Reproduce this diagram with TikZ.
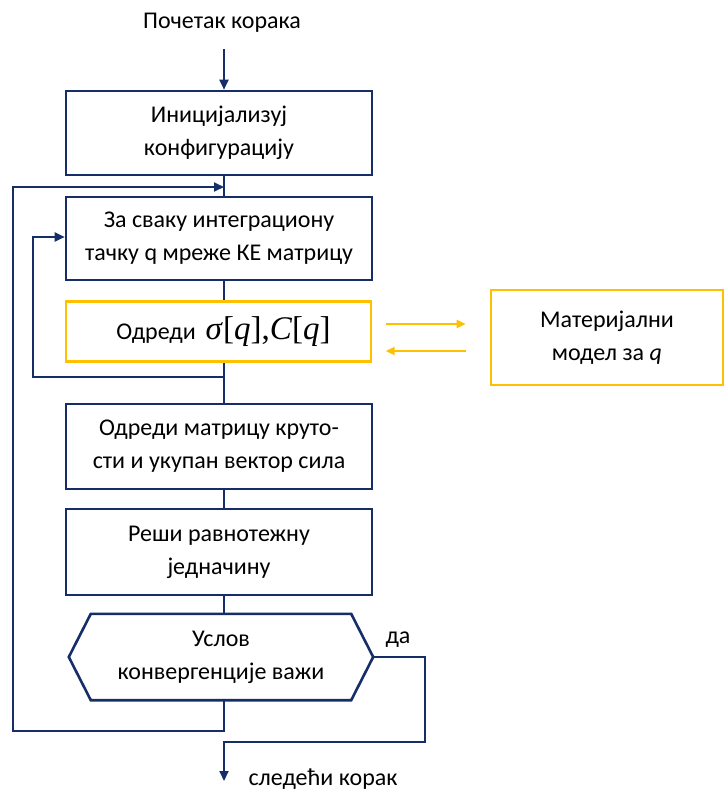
\documentclass[tikz,border=0pt]{standalone}
\usepackage{fontspec}
\setmainfont{Carlito}
\newfontfamily\timesf{Liberation Serif}
\usetikzlibrary{arrows.meta}
\definecolor{navy}{RGB}{22,46,104}
\definecolor{gold}{RGB}{255,192,0}
\begin{document}
\begin{tikzpicture}[x=1pt,y=-1pt,
  font=\fontsize{24}{33}\selectfont,
  box/.style={draw=navy, line width=2.6pt, align=center, inner sep=0pt, minimum width=306pt},
  ybox/.style={draw=gold, line width=2.6pt, align=center, inner sep=0pt},
  conn/.style={draw=navy, line width=2pt},
  arr/.style={conn, -{Triangle[length=10pt,width=9pt]}},
  yarr/.style={draw=gold, line width=2pt, -{Triangle[length=9pt,width=8pt]}}]
\useasboundingbox (0,0) rectangle (725,793);

% nodes
\node (t) at (222,23) {Почетак корака};
\node[box, minimum height=84pt] (b1) at (219,133) {Иницијализуј\\конфигурацију};
\node[box, minimum height=83pt] (b2) at (219,238.5) {За сваку интеграциону\\тачку q мреже КЕ матрицу};
\node[ybox, minimum width=305pt, minimum height=60pt] (y) at (218.5,331.5)
  {\hspace*{10pt}Одреди\hspace{10pt}{\timesf\fontsize{33}{36}\selectfont\textit{σ}[\textit{q}],\textit{C}[\textit{q}]}};
\node[ybox, minimum width=232pt, minimum height=95pt] (m) at (607,337.5) {Материјални\\модел за \textit{q}};
\node[box, minimum height=85pt] (b3) at (219,446.5) {Одреди матрицу круто-\\сти и укупан вектор сила};
\node[box, minimum height=86pt] (b4) at (219,552) {Реши равнотежну\\једначину};
\node[minimum width=304pt, minimum height=86pt, align=center, inner sep=0pt] (hex) at (221,657)
  {Услов\\конвергенције важи};
\draw[navy, line width=2.6pt, line join=miter]
  (hex.west) -- ([xshift=22pt]hex.north west) -- ([xshift=-22pt]hex.north east)
  -- (hex.east) -- ([xshift=-22pt]hex.south east) -- ([xshift=22pt]hex.south west) -- cycle;
\node (da) at (398,640) {да};
\node[anchor=base west] (next) at (245,785) {следећи корак};

% coordinates
\coordinate (sp) at (224,0);
\coordinate (s0) at (224,49);
\coordinate (o1) at (13,731);
\coordinate (o2) at (13,187);
\coordinate (i1) at (33,377);
\coordinate (i2) at (33,237);
\coordinate (e1) at (425,742);
\coordinate (e2) at (224,781);

% connectors
\draw[arr] (s0) -- (b1.north -| sp);
\draw[conn] (b1.south -| sp) -- (b2.north -| sp);
\draw[conn] (b2.south -| sp) -- (y.north -| sp);
\draw[conn] (y.south -| sp) -- (b3.north -| sp);
\draw[conn] (b3.south -| sp) -- (b4.north -| sp);
\draw[conn] (b4.south -| sp) -- (hex.north -| sp);
\draw[arr] (y.south -| sp) -- (i1 -| sp) -- (i1) -- (i2) -- (b2.west |- i2);
\draw[arr] (hex.south -| sp) -- (o1 -| sp) -- (o1) -- (o2) -- (o2 -| sp);
\draw[arr] (hex.east) -- (hex.east -| e1) -- (e1) -- (e1 -| sp) -- (e2);
\draw[yarr] ([xshift=-104pt,yshift=13.5pt]m.west) -- ([xshift=-24pt,yshift=13.5pt]m.west);
\draw[yarr] ([xshift=-24pt,yshift=-13.5pt]m.west) -- ([xshift=-104pt,yshift=-13.5pt]m.west);
\end{tikzpicture}
\end{document}
